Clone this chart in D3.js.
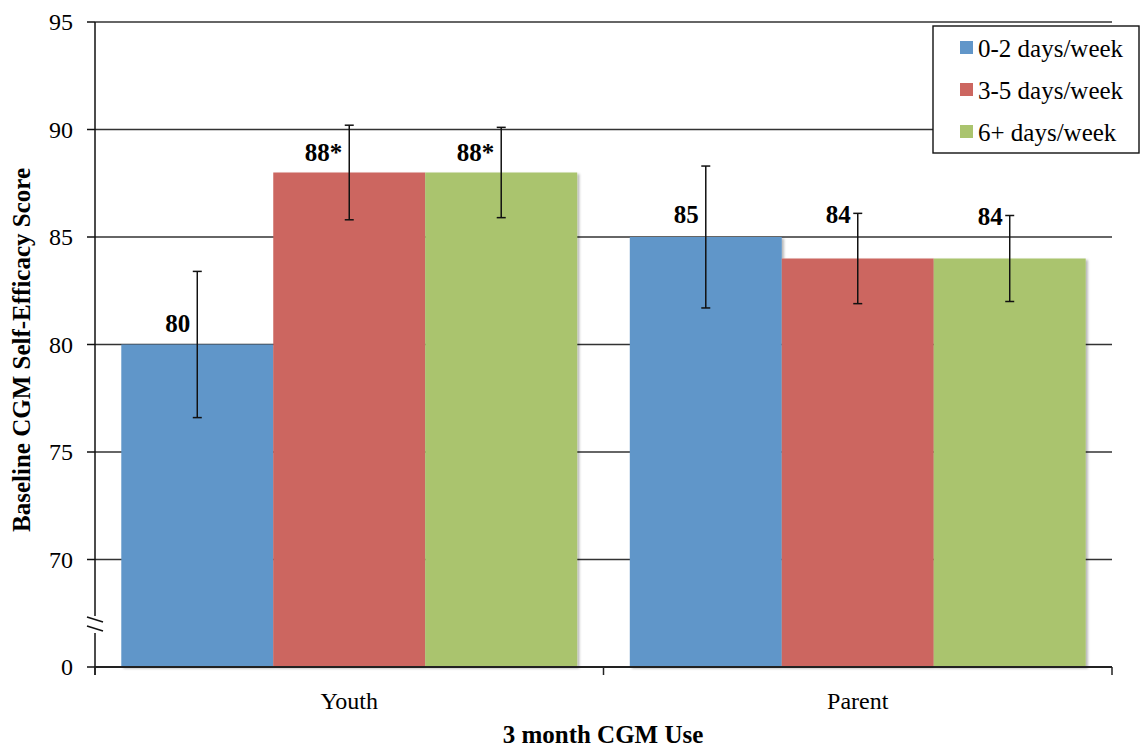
<!DOCTYPE html>
<html>
<head>
<meta charset="utf-8">
<script src="https://cdn.jsdelivr.net/npm/d3@7"></script>
<style>
  html, body { margin: 0; padding: 0; background: #fff; }
  svg { display: block; }
  svg text { font-family: "Liberation Serif", "Times New Roman", Times, serif; }
</style>
</head>
<body>
<svg id="chart" width="1140" height="748"></svg>
<script>
// Groups on the x axis and the CGM-use frequency series
const groups = ["Youth", "Parent"];
const seriesNames = ["0-2 days/week", "3-5 days/week", "6+ days/week"];
const seriesColors = ["#6196C9", "#CC6660", "#AAC46E"];

// Mean baseline self-efficacy score per series, for [Youth, Parent]
const lowUse = [80, 85];
const midUse = [88, 84];
const highUse = [88, 84];

// Half-width of the error bars
const lowErr = [3.4, 3.3];
const midErr = [2.2, 2.1];
const highErr = [2.1, 2.0];

// Value labels ("*" = significant difference)
const lowLabels = ["80", "85"];
const midLabels = ["88*", "84"];
const highLabels = ["88*", "84"];

// Y axis: broken axis, the bottom tick stands for 0
const yTicks = [65, 70, 75, 80, 85, 90, 95];
const yTickLabels = ["0", "70", "75", "80", "85", "90", "95"];

// Vertical lift of each value label above its bar top (layout)
const labelLift = [[13, 14], [11.5, 36], [11.5, 34]];

const values = [lowUse, midUse, highUse];
const errors = [lowErr, midErr, highErr];
const labels = [lowLabels, midLabels, highLabels];

const FONT = "'Liberation Serif', 'Times New Roman', Times, serif";
const svg = d3.select("#chart");
const plotL = 95, plotR = 1112, plotT = 22, plotB = 667;

const y = d3.scaleLinear().domain([65, 95]).range([plotB, plotT]);
const x0 = d3.scaleBand().domain(groups).range([plotL, plotR]).paddingInner(0).paddingOuter(0);
const x1 = d3.scaleBand().domain(d3.range(seriesNames.length))
  .range([0, x0.bandwidth()]).paddingInner(0).paddingOuter(0.173);

// Drop shadow for the bars
const defs = svg.append("defs");
const f = defs.append("filter").attr("id", "barShadow")
  .attr("x", "-5%").attr("y", "-5%").attr("width", "115%").attr("height", "115%");
f.append("feDropShadow").attr("dx", 2.2).attr("dy", 1.5)
  .attr("stdDeviation", 1.2).attr("flood-color", "#000").attr("flood-opacity", 0.28);

// Horizontal gridlines
svg.append("g").selectAll("line")
  .data(yTicks.slice(1))
  .join("line")
  .attr("x1", plotL).attr("x2", plotR)
  .attr("y1", d => y(d)).attr("y2", d => y(d))
  .attr("stroke", "#333").attr("stroke-width", 1.4);

// Bars
const barData = [];
groups.forEach((g, gi) => {
  seriesNames.forEach((s, si) => {
    barData.push({ g, gi, si, v: values[si][gi], e: errors[si][gi], label: labels[si][gi], lift: labelLift[si][gi] });
  });
});

svg.append("g").attr("filter", "url(#barShadow)")
  .selectAll("rect")
  .data(barData)
  .join("rect")
  .attr("x", d => x0(d.g) + x1(d.si))
  .attr("width", x1.bandwidth())
  .attr("y", d => y(d.v))
  .attr("height", d => y(65) - y(d.v))
  .attr("fill", d => seriesColors[d.si]);

// Error bars
const eb = svg.append("g").attr("stroke", "#111").attr("stroke-width", 1.5);
barData.forEach(d => {
  const cx = x0(d.g) + x1(d.si) + x1.bandwidth() / 2;
  eb.append("line").attr("x1", cx).attr("x2", cx).attr("y1", y(d.v + d.e)).attr("y2", y(d.v - d.e));
  eb.append("line").attr("x1", cx - 4.5).attr("x2", cx + 4.5).attr("y1", y(d.v + d.e)).attr("y2", y(d.v + d.e));
  eb.append("line").attr("x1", cx - 4.5).attr("x2", cx + 4.5).attr("y1", y(d.v - d.e)).attr("y2", y(d.v - d.e));
});

// Value labels
svg.append("g").selectAll("text")
  .data(barData)
  .join("text")
  .attr("x", d => x0(d.g) + x1(d.si) + x1.bandwidth() / 2 - 7)
  .attr("y", d => y(d.v) - d.lift)
  .attr("text-anchor", "end")
  .attr("font-family", FONT)
  .attr("font-size", 25).attr("font-weight", "bold").attr("fill", "#000")
  .text(d => d.label);

// Y axis with break mark
const yAxis = svg.append("g").attr("stroke", "#111").attr("stroke-width", 1.5);
yAxis.append("line").attr("x1", plotL).attr("x2", plotL).attr("y1", plotT).attr("y2", 616);
yAxis.append("line").attr("x1", plotL).attr("x2", plotL).attr("y1", 633).attr("y2", plotB + 8);
yAxis.append("line").attr("x1", 87).attr("x2", 103).attr("y1", 617).attr("y2", 622);
yAxis.append("line").attr("x1", 87).attr("x2", 103).attr("y1", 626).attr("y2", 631);
yAxis.selectAll("line.tick")
  .data(yTicks).join("line").attr("class", "tick")
  .attr("x1", 87).attr("x2", plotL)
  .attr("y1", d => y(d)).attr("y2", d => y(d));

svg.append("g").selectAll("text")
  .data(yTicks)
  .join("text")
  .attr("x", 73).attr("y", d => y(d))
  .attr("dy", "0.34em")
  .attr("text-anchor", "end")
  .attr("font-family", FONT)
  .attr("font-size", 24).attr("fill", "#000")
  .text((d, i) => yTickLabels[i]);

// X axis
const xAxis = svg.append("g").attr("stroke", "#222").attr("stroke-width", 2);
xAxis.append("line").attr("x1", plotL).attr("x2", plotR).attr("y1", plotB).attr("y2", plotB);
xAxis.selectAll("line.tick")
  .data([plotL, x0("Parent"), plotR]).join("line").attr("class", "tick")
  .attr("stroke-width", 1.5)
  .attr("x1", d => d).attr("x2", d => d).attr("y1", plotB).attr("y2", plotB + 8);

svg.append("g").selectAll("text")
  .data(groups)
  .join("text")
  .attr("x", d => x0(d) + x0.bandwidth() / 2)
  .attr("y", 709)
  .attr("text-anchor", "middle")
  .attr("font-family", FONT)
  .attr("font-size", 24).attr("fill", "#000")
  .text(d => d);

// Axis titles
svg.append("text")
  .attr("x", 603).attr("y", 743)
  .attr("text-anchor", "middle")
  .attr("font-family", FONT)
  .attr("font-size", 25).attr("font-weight", "bold")
  .text("3 month CGM Use");

svg.append("text")
  .attr("transform", "translate(30,350) rotate(-90)")
  .attr("text-anchor", "middle")
  .attr("font-family", FONT)
  .attr("font-size", 25).attr("font-weight", "bold")
  .text("Baseline CGM Self-Efficacy Score");

// Legend
const legend = svg.append("g");
legend.append("rect")
  .attr("x", 933).attr("y", 26).attr("width", 206).attr("height", 127)
  .attr("fill", "#fff").attr("stroke", "#111").attr("stroke-width", 1.4);
const rows = legend.selectAll("g.row")
  .data(seriesNames).join("g").attr("class", "row")
  .attr("transform", (d, i) => `translate(0,${48 + i * 42})`);
rows.append("rect")
  .attr("x", 960).attr("y", -7).attr("width", 13).attr("height", 13)
  .attr("fill", (d, i) => seriesColors[i]);
rows.append("text")
  .attr("x", 978).attr("y", 0).attr("dy", "0.34em")
  .attr("font-family", FONT)
  .attr("font-size", 25).attr("fill", "#000")
  .text(d => d);
</script>
</body>
</html>
